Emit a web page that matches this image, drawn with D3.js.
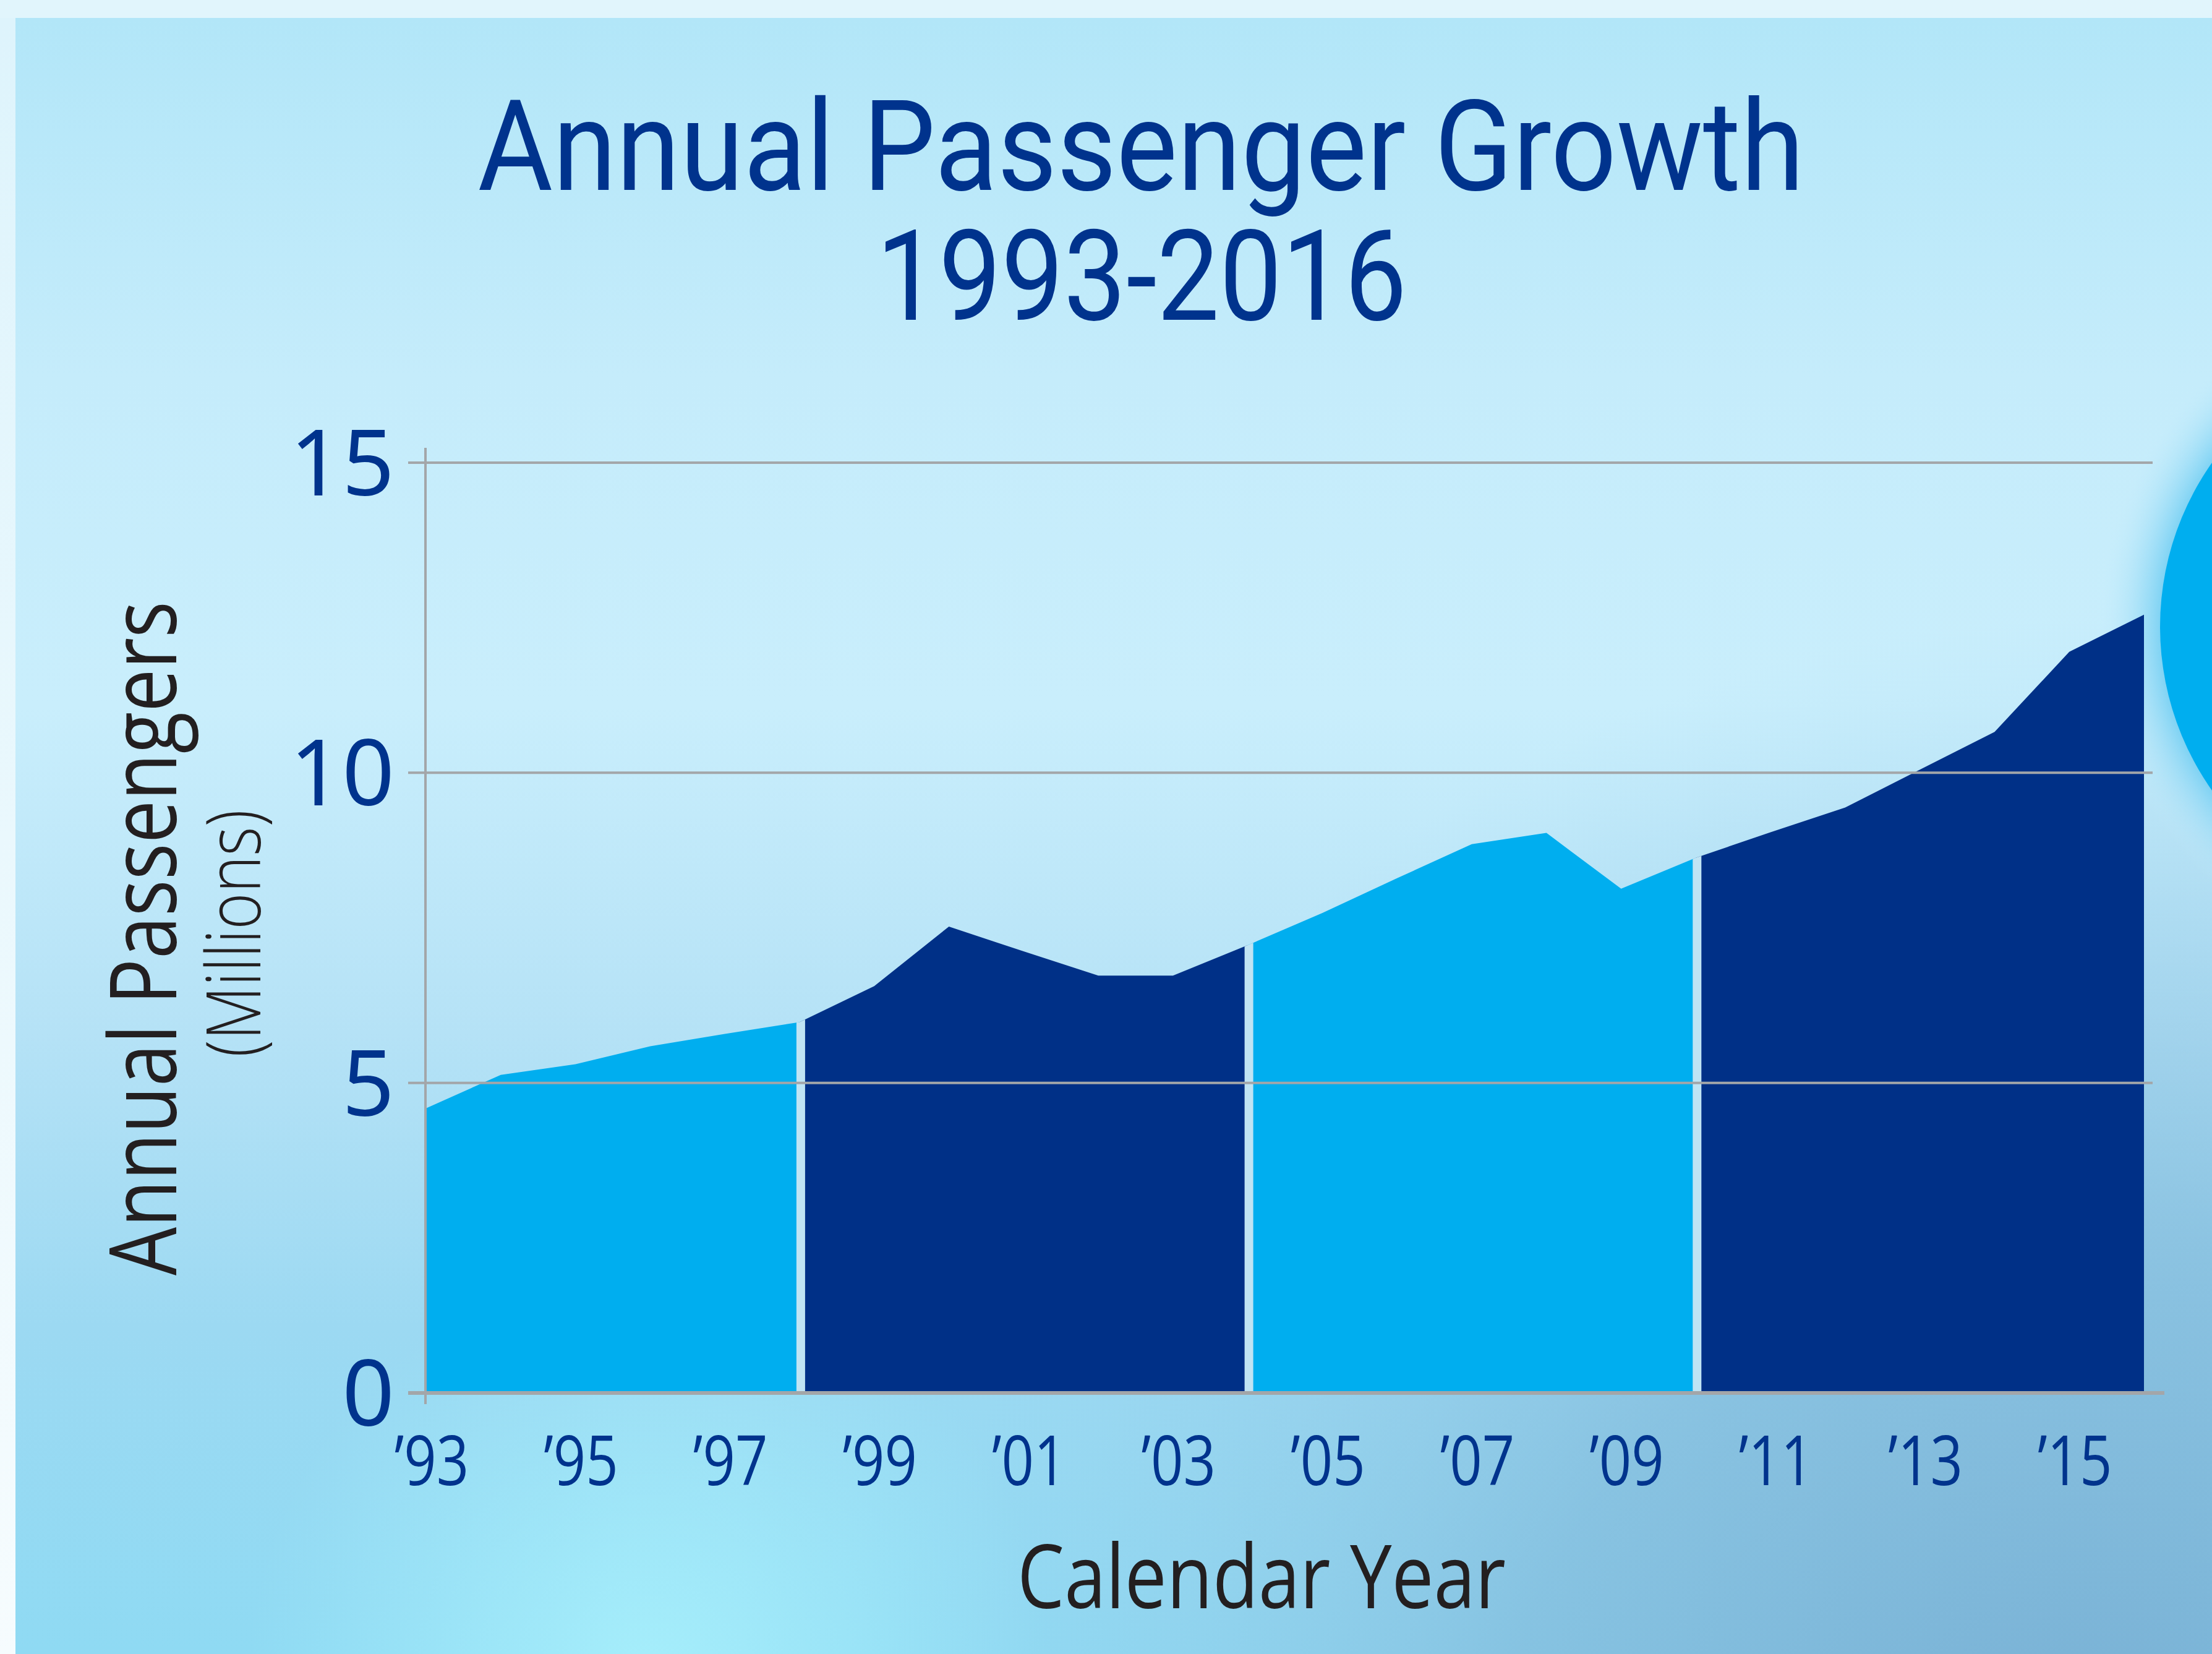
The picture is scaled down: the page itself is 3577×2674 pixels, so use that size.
<!DOCTYPE html>
<html>
<head>
<meta charset="utf-8">
<script src="https://cdn.jsdelivr.net/npm/d3@7"></script>
<style>
  body { margin: 0; padding: 0; overflow: hidden; }
  svg { display: block; }
</style>
</head>
<body>
<script>
var width = 3577;
var height = 2674;

// data
var years = [1993, 1994, 1995, 1996, 1997, 1998, 1999, 2000, 2001, 2002, 2003, 2004,
             2005, 2006, 2007, 2008, 2009, 2010, 2011, 2012, 2013, 2014, 2015, 2016];
var passengers = [4.59, 5.13, 5.30, 5.59, 5.79, 5.98, 6.56, 7.52, 7.12, 6.73, 6.73, 7.22,
                  7.74, 8.30, 8.85, 9.03, 8.13, 8.63, 9.04, 9.44, 10.05, 10.66, 11.95, 12.55];
var segmentStarts = [1993, 1998, 2004, 2010];
var segmentEnds = [1998, 2004, 2010, 2016];
var segmentColors = ["#00aeef", "#003087", "#00aeef", "#003087"];
var yTicks = [0, 5, 10, 15];
var xTickYears = [1993, 1995, 1997, 1999, 2001, 2003, 2005, 2007, 2009, 2011, 2013, 2015];

var data = years.map(function(y, i) { return {year: y, value: passengers[i]}; });

var margin = {top: 748, left: 689, right: 3577 - 3467, bottom: 2674 - 2252};

var svg = d3.select("body")
  .append("svg")
  .attr("width", width)
  .attr("height", height);

var defs = svg.append("defs");

var bgV = defs.append("linearGradient").attr("id", "bgV")
  .attr("x1", 0).attr("y1", 0).attr("x2", 0).attr("y2", 1);
[[0, "#b2e6f8"], [0.22, "#c5ecfb"], [0.42, "#c9eefc"], [0.62, "#b5e2f6"],
 [0.8, "#9cd9f2"], [1, "#8fdaf3"]].forEach(function(s) {
  bgV.append("stop").attr("offset", s[0]).attr("stop-color", s[1]);
});

var strip = defs.append("linearGradient").attr("id", "strip")
  .attr("x1", 0).attr("y1", 0).attr("x2", 0).attr("y2", 1);
strip.append("stop").attr("offset", 0).attr("stop-color", "#def4fc");
strip.append("stop").attr("offset", 1).attr("stop-color", "#f6fcfe");

var shade = defs.append("radialGradient").attr("id", "shade")
  .attr("gradientUnits", "userSpaceOnUse")
  .attr("cx", 3400).attr("cy", 3000).attr("r", 2000);
shade.append("stop").attr("offset", 0).attr("stop-color", "#74a9cf").attr("stop-opacity", 0.95);
shade.append("stop").attr("offset", 0.5).attr("stop-color", "#82b9da").attr("stop-opacity", 0.7);
shade.append("stop").attr("offset", 1).attr("stop-color", "#9fd3ee").attr("stop-opacity", 0);

var cyan = defs.append("radialGradient").attr("id", "cyan")
  .attr("gradientUnits", "userSpaceOnUse")
  .attr("cx", 1050).attr("cy", 2700).attr("r", 650);
cyan.append("stop").attr("offset", 0).attr("stop-color", "#a8f0fc").attr("stop-opacity", 0.9);
cyan.append("stop").attr("offset", 1).attr("stop-color", "#a8f0fc").attr("stop-opacity", 0);

var glow = defs.append("radialGradient").attr("id", "glow")
  .attr("gradientUnits", "userSpaceOnUse")
  .attr("cx", 3953).attr("cy", 1013).attr("r", 560);
glow.append("stop").attr("offset", 0.8).attr("stop-color", "#6fcdf2").attr("stop-opacity", 1);
glow.append("stop").attr("offset", 1).attr("stop-color", "#c6ecfb").attr("stop-opacity", 0);

// background
svg.append("rect").attr("width", width).attr("height", height).attr("fill", "#e1f5fc");
svg.append("rect").attr("x", 0).attr("y", 29).attr("width", 25).attr("height", height - 29)
  .attr("fill", "url(#strip)");
svg.append("rect").attr("x", 25).attr("y", 29).attr("width", width - 25).attr("height", height - 29)
  .attr("fill", "url(#bgV)");
svg.append("rect").attr("x", 25).attr("y", 29).attr("width", width - 25).attr("height", height - 29)
  .attr("fill", "url(#cyan)");
svg.append("rect").attr("x", 25).attr("y", 29).attr("width", width - 25).attr("height", height - 29)
  .attr("fill", "url(#shade)");

// big blue circle at the right edge
svg.append("circle").attr("cx", 3953).attr("cy", 1013).attr("r", 560).attr("fill", "url(#glow)");
svg.append("circle").attr("cx", 3953).attr("cy", 1013).attr("r", 460).attr("fill", "#00aeef");

var xScale = d3.scaleLinear()
  .domain([1993, 2016])
  .range([margin.left, width - margin.right]);

var yScale = d3.scaleLinear()
  .domain([0, 15])
  .range([height - margin.bottom, margin.top]);

var area = d3.area()
  .x(function(d) { return xScale(d.year); })
  .y0(yScale(0))
  .y1(function(d) { return yScale(d.value); });

defs.append("clipPath").attr("id", "areaClip")
  .append("path").attr("d", area(data));

// coloured blocks
segmentStarts.forEach(function(s, i) {
  var e = segmentEnds[i];
  svg.append("path")
    .attr("d", area(data.filter(function(d) { return d.year >= s && d.year <= e; })))
    .attr("fill", segmentColors[i]);
});

// pale gaps between blocks
svg.append("g").attr("clip-path", "url(#areaClip)")
  .selectAll("line")
  .data(segmentStarts.slice(1))
  .enter()
  .append("line")
    .attr("x1", function(d) { return xScale(d) + 2; })
    .attr("x2", function(d) { return xScale(d) + 2; })
    .attr("y1", yScale(0))
    .attr("y2", yScale(15))
    .attr("stroke", "#c0e4f4")
    .attr("stroke-width", 14);

// gridlines
svg.append("g")
  .selectAll("line")
  .data(yTicks)
  .enter()
  .append("line")
    .attr("x1", 660)
    .attr("x2", function(d) { return d === 0 ? 3500 : 3481; })
    .attr("y1", function(d) { return yScale(d); })
    .attr("y2", function(d) { return yScale(d); })
    .attr("stroke", "#a3a6a9")
    .attr("stroke-width", function(d) { return d === 0 ? 6 : 4; });

svg.append("line")
  .attr("x1", xScale(1993) - 1).attr("x2", xScale(1993) - 1)
  .attr("y1", 724).attr("y2", 2270)
  .attr("stroke", "#a3a6a9").attr("stroke-width", 4);

// y tick labels
svg.append("g")
  .selectAll("text")
  .data(yTicks)
  .enter()
  .append("text")
    .attr("x", 638)
    .attr("y", function(d) { return yScale(d) + 53; })
    .attr("text-anchor", "end")
    .attr("font-family", "'Noto Sans', 'Open Sans', sans-serif")
    .attr("font-size", 148)
    .attr("fill", "#00338d")
    .text(function(d) { return d; });

// x tick labels
svg.append("g")
  .selectAll("text")
  .data(xTickYears)
  .enter()
  .append("text")
    .attr("transform", function(d) { return "translate(" + (xScale(d) + 9) + ",2401) scale(0.82,1)"; })
    .attr("text-anchor", "middle")
    .attr("font-family", "'Open Sans', sans-serif")
    .attr("font-size", 112)
    .attr("fill", "#00338d")
    .text(function(d) { return "\u2019" + String(d).slice(2); });

// titles
svg.append("text")
  .attr("x", 1845).attr("y", 307)
  .attr("text-anchor", "middle")
  .attr("font-family", "Roboto, sans-serif")
  .attr("font-size", 205)
  .attr("textLength", 2145)
  .attr("lengthAdjust", "spacingAndGlyphs")
  .attr("fill", "#00338d")
  .text("Annual Passenger Growth");

svg.append("text")
  .attr("x", 1846).attr("y", 517)
  .attr("text-anchor", "middle")
  .attr("font-family", "Roboto, sans-serif")
  .attr("font-size", 205)
  .attr("textLength", 858)
  .attr("lengthAdjust", "spacingAndGlyphs")
  .attr("fill", "#00338d")
  .text("1993-2016");

svg.append("text")
  .attr("transform", "translate(285,1517) rotate(-90)")
  .attr("text-anchor", "middle")
  .attr("font-family", "'Open Sans', sans-serif")
  .attr("font-size", 150)
  .attr("textLength", 1090)
  .attr("lengthAdjust", "spacingAndGlyphs")
  .attr("fill", "#231f20")
  .text("Annual Passengers");

svg.append("text")
  .attr("transform", "translate(421,1509) rotate(-90)")
  .attr("text-anchor", "middle")
  .attr("font-family", "'Open Sans', sans-serif")
  .attr("font-weight", 300)
  .attr("font-size", 122)
  .attr("textLength", 400)
  .attr("lengthAdjust", "spacingAndGlyphs")
  .attr("fill", "#231f20")
  .text("(Millions)");

svg.append("text")
  .attr("x", 2040).attr("y", 2600)
  .attr("text-anchor", "middle")
  .attr("font-family", "'Open Sans', sans-serif")
  .attr("font-size", 142)
  .attr("textLength", 790)
  .attr("lengthAdjust", "spacingAndGlyphs")
  .attr("fill", "#231f20")
  .text("Calendar Year");
</script>
</body>
</html>
